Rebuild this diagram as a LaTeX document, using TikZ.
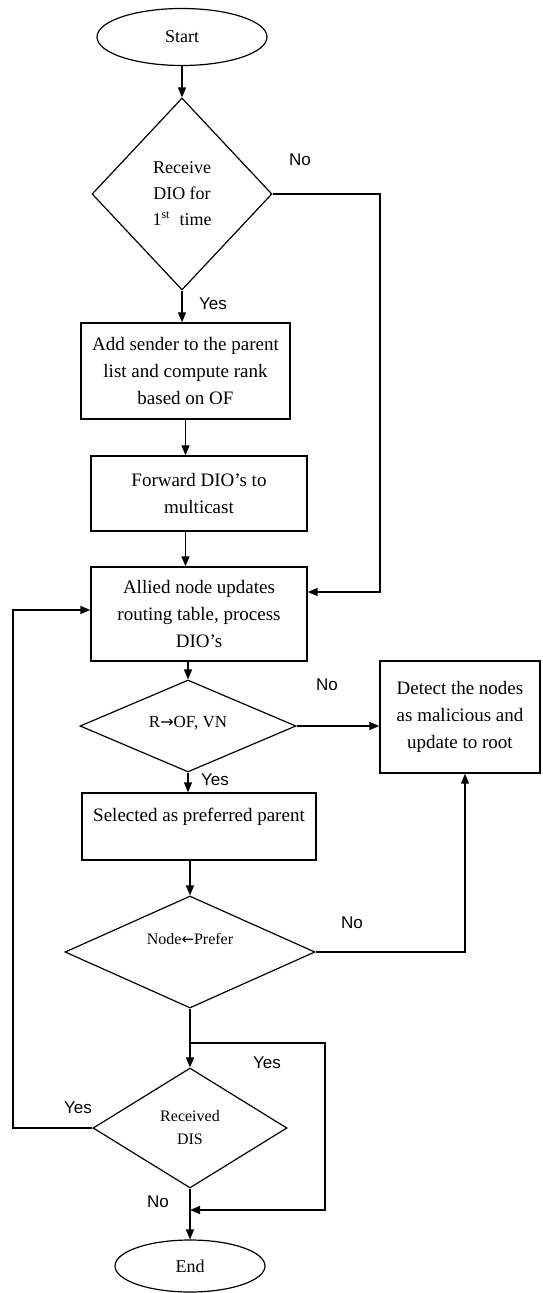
\documentclass[tikz,border=0pt]{standalone}
\usepackage{fontspec}
\setmainfont{Liberation Serif}
\newfontfamily\yesnofont{Liberation Sans}
\newfontfamily\arrowfont{DejaVu Sans}
\usetikzlibrary{shapes.geometric, arrows.meta, positioning}
\tikzset{
  flowline/.style={line width=0.7pt},
  flowarrow/.style={flowline, -{Triangle[length=5pt,width=4pt]}},
  terminal/.style={draw, ellipse, line width=0.6pt, inner sep=0pt, font=\fontsize{9}{11}\selectfont},
  procBox/.style={draw, rectangle, line width=0.7pt, align=center, inner sep=2pt, font=\fontsize{9.5}{13.5}\selectfont},
  decision/.style={draw, diamond, line width=0.6pt, align=center, inner sep=0pt},
  answer/.style={font=\yesnofont\fontsize{8.5}{10}\selectfont, inner sep=0pt}
}

\begin{document}
\begin{tikzpicture}[x=0.5pt, y=-0.5pt]
  \fill[white] (0,0) rectangle (542,1293);
  \useasboundingbox (0,0) rectangle (542,1293);
  % main column
  \node[terminal, minimum width=85pt, minimum height=28.5pt] (start) at (182,37) {Start};
  \node[decision, aspect=1, minimum width=90pt, minimum height=96pt, font=\fontsize{9}{13}\selectfont] (recv) at (182,194) {Receive\\DIO for\\1\textsuperscript{st}~~time};
  \node[procBox, minimum width=104.5pt, minimum height=48pt] (addParent) at (185.5,371) {Add sender to the parent\\list and compute rank\\based on OF};
  \node[procBox, minimum width=108pt, minimum height=37.5pt] (fwd) at (199,493.5) {Forward DIO’s to\\multicast};
  \node[procBox, minimum width=108pt, minimum height=47pt] (allied) at (199,614) {Allied node updates\\routing table, process\\DIO’s};
  \node[decision, aspect=2, minimum width=108pt, minimum height=46pt, text depth=4pt, font=\fontsize{8.5}{10}\selectfont] (rankChk) at (188,726) {R{\arrowfont\fontsize{8}{10}\selectfont→}OF, VN};
  \node[procBox, minimum width=80pt, minimum height=56pt] (detect) at (460,717) {Detect the nodes\\as malicious and\\update to root};
  \node[procBox, minimum width=117pt, minimum height=33.5pt, text depth=12pt] (select) at (199,826.5) {Selected as preferred parent};
  \node[decision, aspect=2.2, minimum width=125pt, minimum height=56pt, text depth=13pt, font=\fontsize{8}{10}\selectfont] (prefer) at (190,952) {Node{\arrowfont\fontsize{7.5}{10}\selectfont←}Prefer};
  \node[decision, aspect=2, minimum width=97pt, minimum height=60pt, font=\fontsize{8}{11.5}\selectfont] (dis) at (190,1128) {Received\\DIS};
  \node[terminal, minimum width=75pt, minimum height=26pt] (finish) at (190,1266) {End};

  % corners
  \coordinate (skipRight) at (380,194);
  \coordinate (loopTop) at (190,1043);
  \coordinate (loopRight) at (325,1043);
  \coordinate (loopEnd) at (190,1210);
  \coordinate (backLeft) at (13,1128);

  % connectors
  \draw[flowarrow] (start) -- (recv);
  \draw[flowarrow] (recv.south) -- (recv.south |- addParent.north);
  \draw[flowarrow] (addParent.south) -- (addParent.south |- fwd.north);
  \draw[flowarrow] (addParent.south |- fwd.south) -- (addParent.south |- allied.north);
  \draw[flowarrow] (rankChk.north |- allied.south) -- (rankChk.north);
  \draw[flowarrow] (rankChk.south) -- (rankChk.south |- select.north);
  \draw[flowarrow] (rankChk.east) -- (rankChk.east -| detect.west);
  \draw[flowarrow] (prefer.north |- select.south) -- (prefer.north);
  \draw[flowarrow] (prefer.east) -| ([xshift=2.5pt]detect.south);
  \draw[flowarrow] (prefer.south) -- (dis.north);
  \draw[flowarrow] (loopTop) -- (loopRight) |- (loopEnd);
  \draw[flowarrow] (dis.south) -- (finish.north);
  \draw[flowarrow] (dis.west) -- (backLeft) |- ([yshift=2pt]allied.west);
  \draw[flowarrow] (recv.east) -- (skipRight) |- ([yshift=11pt]allied.east);

  % yes / no labels
  \node[answer] (noFirst) at (300,160) {No};
  \node[answer] (yesFirst) at (213,304) {Yes};
  \node[answer] (noRank) at (327,685) {No};
  \node[answer] (yesRank) at (215,780) {Yes};
  \node[answer] (noPrefer) at (352,923) {No};
  \node[answer] (yesLoop) at (267,1063) {Yes};
  \node[answer] (yesDis) at (78,1108) {Yes};
  \node[answer] (noDis) at (158,1202) {No};
\end{tikzpicture}
\end{document}
